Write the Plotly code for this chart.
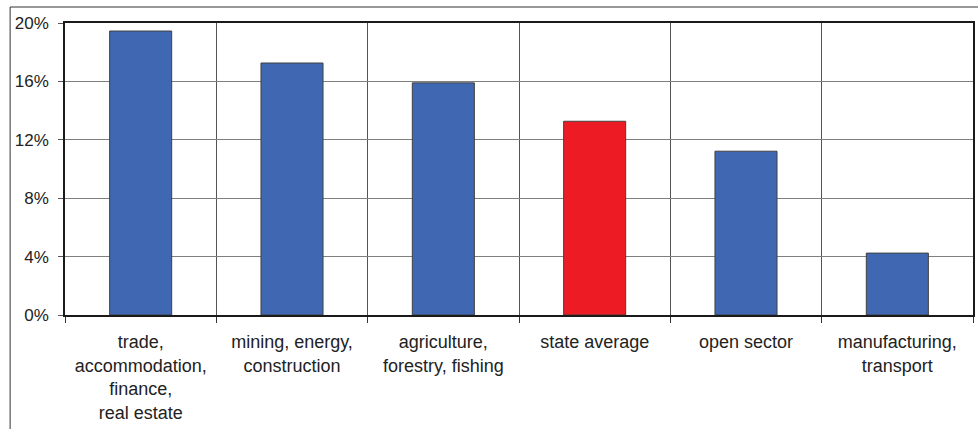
import plotly.graph_objects as go

categories = ["trade,<br>accommodation,<br>finance,<br>real estate",
              "mining, energy,<br>construction",
              "agriculture,<br>forestry, fishing",
              "state average",
              "open sector",
              "manufacturing,<br>transport"]
values = [19.45, 17.26, 15.9, 13.27, 11.22, 4.24]
bar_colors = ["#3F67B2", "#3F67B2", "#3F67B2", "#ED1C24", "#3F67B2", "#3F67B2"]
y_ticks = [0, 4, 8, 12, 16, 20]
y_labels = ["0%", "4%", "8%", "12%", "16%", "20%"]

W, H = 978, 429
L, R, T, B = 65, 3, 23, 114
pw, ph = W - L - R, H - T - B

xs = list(range(len(categories)))
fig = go.Figure(go.Bar(
    x=xs, y=values, width=0.41,
    marker=dict(color=bar_colors, line=dict(color="#404040", width=1)),
    hoverinfo="skip",
))

yfont = dict(family="Liberation Sans, Arial, sans-serif", size=17, color="#222222")
xfont = dict(family="Liberation Sans, Arial, sans-serif", size=18, color="#222222")
fig.update_layout(
    width=W, height=H, margin=dict(l=L, r=R, t=T, b=B),
    paper_bgcolor="white", plot_bgcolor="white", showlegend=False,
    font=yfont,
    xaxis=dict(range=[-0.5, 5.5], tickmode="array", tickvals=xs, ticktext=categories,
               ticks="", showgrid=False, zeroline=False,
               showline=True, mirror=True, linecolor="#1a1a1a", linewidth=1.5,
               ticklabelstandoff=10,
               minor=dict(tickmode="array", tickvals=[i - 0.5 for i in range(7)],
                          ticks="outside", ticklen=6, tickcolor="#333333", tickwidth=1,
                          showgrid=True, gridcolor="#555555", gridwidth=1),
               tickfont=xfont),
    yaxis=dict(range=[0, 20], tickmode="array", tickvals=y_ticks, ticktext=y_labels,
               ticks="outside", ticklen=5, tickcolor="#555555",
               showgrid=True, gridcolor="#7f7f7f", gridwidth=1.2, zeroline=False,
               showline=True, mirror=True, linecolor="#1a1a1a", linewidth=1.5,
               ticklabelstandoff=6, tickfont=yfont),
)

# outer chart border (left and top edges visible)
bx = (10 - L) / pw
by = (H - B - 7) / ph
fig.add_shape(type="line", xref="paper", yref="paper", x0=bx, x1=bx, y0=-1, y1=by,
              line=dict(color="#333333", width=1))
fig.add_shape(type="line", xref="paper", yref="paper", x0=bx, x1=1.5, y0=by, y1=by,
              line=dict(color="#333333", width=1))

fig.write_html("out.html")
